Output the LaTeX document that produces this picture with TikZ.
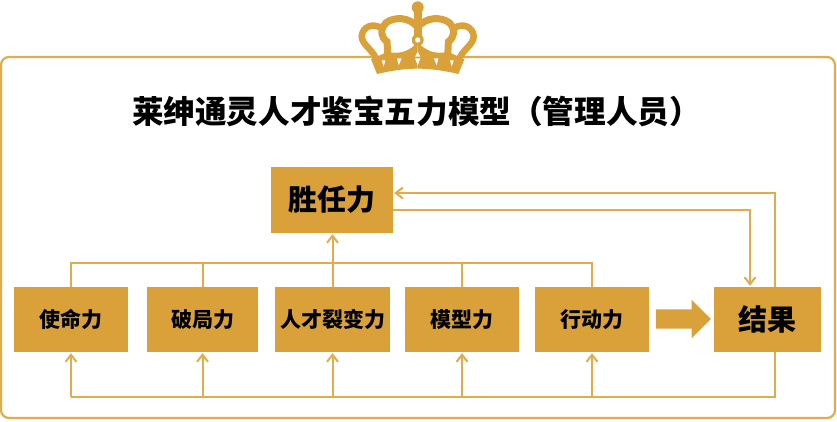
\documentclass[tikz,border=0pt]{standalone}
\usepackage{fontspec}
\setmainfont{Noto Sans CJK SC}
\usetikzlibrary{arrows.meta,shapes.arrows}
\definecolor{gold}{RGB}{218,161,58}
\definecolor{goldline}{RGB}{224,172,76}
\begin{document}
\begin{tikzpicture}
[x=1pt,y=-1pt,
  boxdecorate/.style={shape=rectangle,fill=gold,inner sep=0pt,font=\bfseries},
  linedecorate/.style={-,line width=2pt,draw=goldline},
  arrowdecorate/.style={linedecorate,-{Straight Barb[length=7pt,width=11pt,line width=2pt]},shorten >=1pt}]
\useasboundingbox (0,0) rectangle (837,421);
%% frame and title
\draw [draw=goldline,line width=2.2pt,rounded corners=8pt] (1,57) rectangle (835,418);
\node (title) at (416.5,111) [inner sep=0pt,font=\bfseries\fontsize{31.6}{36}\selectfont] {莱绅通灵人才鉴宝五力模型（管理人员）};
%% crown
\begin{scope}[shift={(417.7pt,0pt)},x=0.3333pt,y=-0.3333pt]
  \fill [gold] (0,22) circle (18);
  \fill [gold] (-12,30) rectangle (12,120);
  \foreach \sgn in {1,-1} {
    \begin{scope}[xscale=\sgn]
      \draw [gold,line width=7pt] (0,82) .. controls (-25,50) and (-70,50) .. (-95,68)
        .. controls (-115,90) and (-110,112) .. (-92,125) -- (-90,170);
      \draw [gold,line width=6.5pt] (-110,84) .. controls (-135,68) and (-165,80) .. (-168,108)
        .. controls (-169,135) and (-130,150) .. (-122,185);
      \fill [gold] (0,125) .. controls (-20,152) and (-55,165) .. (-90,155) -- (-140,178)
        -- (-122,222) .. controls (-80,212) and (-40,206) .. (0,206) -- cycle;
      \fill [white] (-108,181) -- (-97,181) -- (-102,200) -- cycle;
      \fill [white] (-62,175) -- (-48,175) -- (-57,196) -- cycle;
    \end{scope}
  }
  \fill [gold] (0,120) circle (18);
  \fill [white] (0,120) circle (8);
  \fill [white] (0,155) -- (8,170) -- (-8,170) -- cycle;
  \fill [white] (-8,175) -- (8,175) -- (0,196) -- cycle;
\end{scope}
%% nodes or boxes
\foreach \nodename/\x/\y/\boxw/\boxh/\size/\txt in {competency/332/200/122/66/29/胜任力,
  mission/71/319.5/114/65/21/使命力, breakout/202.5/319.5/111/65/21/破局力,
  talent/332.5/319.5/115/65/21/人才裂变力, model/462/319.5/114/65/21/模型力,
  action/592/319.5/114/65/21/行动力, result/767.5/319.5/107/65/29/结果} {
  \node (\nodename) at (\x,\y) [boxdecorate,minimum width=\boxw pt,minimum height=\boxh pt]
    {\fontsize{\size}{\size}\selectfont\txt};
}
\node (bigarrow) at (678.5,319) [shape=single arrow,fill=gold,inner xsep=0pt,inner ysep=9.5pt,minimum height=55pt,
  single arrow head extend=9.5pt] {};
%% buses
\coordinate (topbus) at (0,263);
\coordinate (bottombus) at (0,397);
\draw [linedecorate] (mission.north) |- (action.north |- topbus) -- (action.north);
\foreach \nodename in {breakout, model} {
  \draw [linedecorate] (\nodename.north) -- (\nodename.north |- topbus);
}
\draw [linedecorate] ([xshift=7.5pt]result.south) |- (mission.south |- bottombus);
\foreach \nodename in {mission, breakout, talent, model, action} {
  \draw [arrowdecorate] (\nodename.south |- bottombus) -- (\nodename.south);
}
%% edges or lines
\draw [arrowdecorate] (talent.north) -- (talent.north |- competency.south);
\draw [arrowdecorate] ([xshift=7.5pt]result.north) |- ([yshift=7pt]competency.east);
\draw [arrowdecorate] ([yshift=-10pt]competency.east) -| ([xshift=-17.5pt]result.north);
\end{tikzpicture}
\end{document}
